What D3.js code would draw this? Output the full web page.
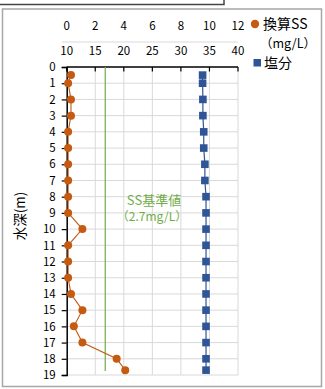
<!DOCTYPE html>
<html><head><meta charset="utf-8">
<script src="https://cdn.jsdelivr.net/npm/d3@7"></script>
<style>
html,body{margin:0;padding:0;background:#fff;}
svg{display:block;}
text{font-family:"Noto Sans CJK JP","Noto Sans",sans-serif;}
</style></head>
<body>
<svg id="c" width="325" height="389"></svg>
<script>
const depths = [0.5,1,2,3,4,5,6,7,8,9,10,11,12,13,14,15,16,17,18,18.7];
const ssValues = [0.3,0.1,0.3,0.3,0.1,0.1,0.1,0.1,0.1,0.1,1.1,0.1,0.1,0.1,0.3,1.1,0.5,1.1,3.5,4.1];
const salinity = [33.8,33.8,33.85,33.85,34.0,34.0,34.2,34.2,34.4,34.4,34.4,34.4,34.4,34.4,34.4,34.4,34.4,34.4,34.4,34.4];
const depthTicks = d3.range(0,20);
const ssTicks = [0,2,4,6,8,10,12];
const salTicks = [10,15,20,25,30,35,40];
const ssStandard = 2.7;
const standardDepths = [0,18.75];
const labels = {yTitle:"水深(m)", std1:"SS基準値", std2:"（2.7mg/L）", leg1a:"換算SS", leg1b:"（mg/L）", leg2:"塩分"};

const svg = d3.select("#c");
const L=66.7, R=238, T=67, B=375;
const y = d3.scaleLinear().domain([0,19]).range([T,B]);
const xSS = d3.scaleLinear().domain([0,12]).range([L,R]);
const xSal = d3.scaleLinear().domain([10,40]).range([L,R]);
const orange="#C55A11", blue="#2F5597", green="#70AD47", grid="#d9d9d9";

// fragments of surrounding page
svg.append("rect").attr("x",-2).attr("y",-10).attr("width",226).attr("height",14.5)
  .attr("fill","none").attr("stroke","#444").attr("stroke-width",1.5);
svg.append("rect").attr("x",2.5).attr("y",9).attr("width",319).attr("height",377.5)
  .attr("fill","none").attr("stroke","#a6a6a6").attr("stroke-width",1.5);

// gridlines
svg.append("g").selectAll("line").data(depthTicks.slice(1)).join("line")
  .attr("x1",L).attr("x2",R).attr("y1",d=>y(d)).attr("y2",d=>y(d))
  .attr("stroke",grid).attr("stroke-width",1);
svg.append("g").selectAll("line").data(ssTicks.slice(1)).join("line")
  .attr("x1",d=>xSS(d)).attr("x2",d=>xSS(d)).attr("y1",T).attr("y2",B)
  .attr("stroke",grid).attr("stroke-width",1);

// separator line between top axes
svg.append("line").attr("x1",62).attr("x2",R).attr("y1",42).attr("y2",42)
  .attr("stroke",grid).attr("stroke-width",1);

// top axis (SS) labels
const fs = 11.5;
svg.append("g").selectAll("text").data(ssTicks).join("text")
  .attr("x",d=>xSS(d)).attr("y",26).attr("dy","0.36em").attr("text-anchor","middle")
  .attr("font-size",fs).attr("fill","#000").text(d=>d);
svg.append("g").selectAll("text").data(salTicks).join("text")
  .attr("x",d=>xSal(d)).attr("y",51).attr("dy","0.36em").attr("text-anchor","middle")
  .attr("font-size",fs).attr("fill","#000").text(d=>d);

// top border with inner ticks
svg.append("line").attr("x1",L).attr("x2",R).attr("y1",T).attr("y2",T)
  .attr("stroke","#000").attr("stroke-width",1.3);
svg.append("g").selectAll("line").data(ssTicks).join("line")
  .attr("x1",d=>xSS(d)).attr("x2",d=>xSS(d)).attr("y1",T).attr("y2",T+4.5)
  .attr("stroke","#000").attr("stroke-width",1.2);

// left axis
const yAxis = d3.axisLeft(y).tickValues(depthTicks).tickSize(5).tickPadding(6).tickFormat(d=>d);
const ga = svg.append("g").attr("transform",`translate(${L},0)`).call(yAxis);
ga.select(".domain").attr("stroke","#000").attr("stroke-width",1.5);
ga.selectAll(".tick line").attr("stroke","#000").attr("stroke-width",1.2);
ga.selectAll(".tick text").attr("font-size",fs).attr("fill","#000")
  .attr("font-family","\"Noto Sans CJK JP\",sans-serif");

// y title
svg.append("text").attr("transform","translate(20,216) rotate(-90)")
  .attr("text-anchor","middle").attr("dy","0.36em").attr("font-size",13.5).attr("fill","#000")
  .text(labels.yTitle);

// standard line
svg.append("line").attr("x1",xSS(ssStandard)).attr("x2",xSS(ssStandard))
  .attr("y1",y(standardDepths[0])).attr("y2",y(standardDepths[1]))
  .attr("stroke",green).attr("stroke-width",1.2);
svg.append("text").attr("x",154).attr("y",200).attr("dy","0.36em").attr("text-anchor","middle")
  .attr("font-size",13).attr("fill",green).text(labels.std1);
svg.append("text").attr("x",152).attr("y",217).attr("dy","0.36em").attr("text-anchor","middle")
  .attr("font-size",12).attr("fill",green).text(labels.std2);

// salinity series
const salData = depths.map((d,i)=>({d,v:salinity[i]}));
svg.append("path").datum(salData)
  .attr("d",d3.line().x(p=>xSal(p.v)).y(p=>y(p.d)))
  .attr("fill","none").attr("stroke",blue).attr("stroke-width",1.2);
svg.append("g").selectAll("rect").data(salData).join("rect")
  .attr("x",p=>xSal(p.v)-3.8).attr("y",p=>y(p.d)-3.8).attr("width",7.6).attr("height",7.6)
  .attr("fill",blue);

// SS series
const ssData = depths.map((d,i)=>({d,v:ssValues[i]}));
svg.append("path").datum(ssData)
  .attr("d",d3.line().x(p=>xSS(p.v)).y(p=>y(p.d)))
  .attr("fill","none").attr("stroke",orange).attr("stroke-width",1.1);
svg.append("g").selectAll("circle").data(ssData).join("circle")
  .attr("cx",p=>xSS(p.v)).attr("cy",p=>y(p.d)).attr("r",4)
  .attr("fill",orange);

// legend
svg.append("circle").attr("cx",255).attr("cy",24).attr("r",4.2).attr("fill",orange);
svg.append("text").attr("x",263).attr("y",24).attr("dy","0.36em").attr("font-size",14)
  .attr("fill","#000").text(labels.leg1a);
svg.append("text").attr("x",260).attr("y",43).attr("dy","0.36em").attr("font-size",12.5)
  .attr("fill","#000").text(labels.leg1b);
svg.append("rect").attr("x",253.5).attr("y",59).attr("width",7.5).attr("height",7.5).attr("fill",blue);
svg.append("text").attr("x",264).attr("y",63).attr("dy","0.36em").attr("font-size",14)
  .attr("fill","#000").text(labels.leg2);
</script>
</body></html>
